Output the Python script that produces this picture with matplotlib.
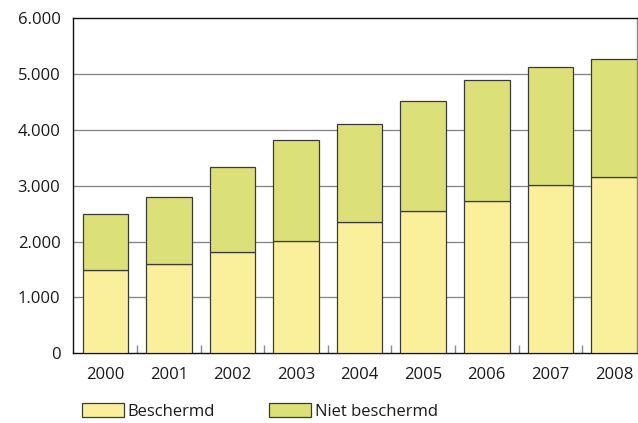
import matplotlib

matplotlib.use("Agg")
import matplotlib.pyplot as plt
import numpy as np
from matplotlib.patches import Patch
from matplotlib.ticker import FixedLocator, FuncFormatter

# Data
YEARS = ["2000", "2001", "2002", "2003", "2004", "2005", "2006", "2007", "2008"]
BESCHERMD = [1487, 1594, 1809, 2012, 2352, 2543, 2722, 3020, 3152]
NIET_BESCHERMD = [1008, 1200, 1528, 1803, 1755, 1971, 2168, 2102, 2125]
Y_TICKS = [0, 1000, 2000, 3000, 4000, 5000, 6000]

YELLOW = "#FAF09B"
GREEN = "#DBE078"
EDGE = "#3A3A3A"
GRID = "#8A8A8A"
INK = "#1A1A1A"

plt.rcParams["font.family"] = ["Open Sans", "DejaVu Sans"]


def dutch_thousands(value, _pos):
    return f"{int(value):,}".replace(",", ".")


fig = plt.figure(figsize=(6.38, 4.23), dpi=100)
ax = fig.add_axes([73 / 638, 1 - 353.3 / 423, (636.7 - 73) / 638, (353.3 - 18.3) / 423])

x = np.arange(len(YEARS))
width = 0.7165
ax.bar(x, BESCHERMD, width, color=YELLOW, edgecolor=EDGE, linewidth=0.9, zorder=3)
ax.bar(x, NIET_BESCHERMD, width, bottom=BESCHERMD, color=GREEN,
       edgecolor=EDGE, linewidth=0.9, zorder=3)

# the last bar runs into the right frame, as in the source
ax.set_xlim(-0.509, len(YEARS) - 1 + width / 2)
ax.set_ylim(0, 6000)
ax.set_yticks(Y_TICKS)
ax.yaxis.set_major_formatter(FuncFormatter(dutch_thousands))
ax.set_xticks(x)
ax.set_xticklabels(YEARS)
ax.xaxis.set_minor_locator(FixedLocator(np.arange(0.5, len(YEARS) - 1, 1.0)))

ax.tick_params(axis="y", length=0, pad=9, labelsize=12, labelcolor=INK)
ax.tick_params(axis="x", which="major", length=0, pad=10, labelsize=12, labelcolor=INK)
ax.tick_params(axis="x", which="minor", direction="in", length=6, width=1.0, color=GRID)

for level in Y_TICKS[1:-1]:
    ax.axhline(level, color=GRID, linewidth=1.0, zorder=1)

for side in ("top", "left", "bottom"):
    ax.spines[side].set_color("#111111")
    ax.spines[side].set_linewidth(1.0)
ax.spines["right"].set_color(GRID)
ax.spines["right"].set_linewidth(1.0)

handles = [
    Patch(facecolor=YELLOW, edgecolor=EDGE, linewidth=0.9, label="Beschermd"),
    Patch(facecolor=GREEN, edgecolor=EDGE, linewidth=0.9, label="Niet beschermd"),
]
fig.legend(
    handles=handles,
    loc="upper left",
    bbox_to_anchor=(82 / 638, 1 - 403 / 423),
    ncol=2,
    frameon=False,
    fontsize=12,
    handlelength=2.5,
    handleheight=0.95,
    handletextpad=0.25,
    columnspacing=3.25,
    borderpad=0,
    borderaxespad=0,
    labelcolor=INK,
)

fig.savefig("out.png", dpi=100)
